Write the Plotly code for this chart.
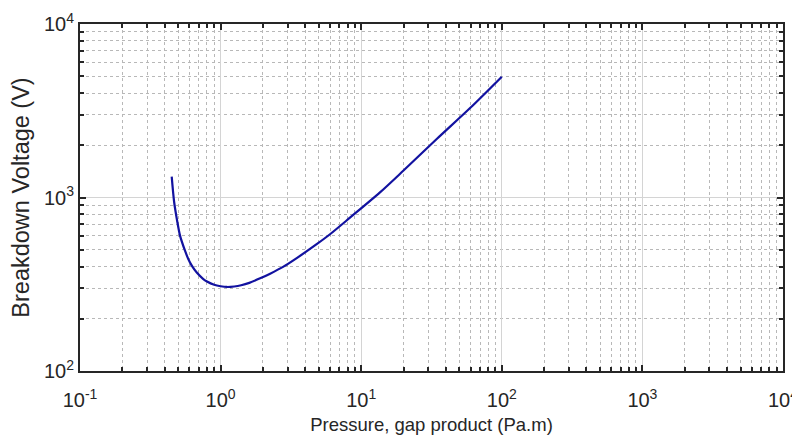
import plotly.graph_objects as go

# Data (pressure-gap product in Pa.m, breakdown voltage in V)
pd_values = [0.449, 0.467, 0.49, 0.514, 0.559, 0.59, 0.627, 0.679, 0.75, 0.80, 0.9, 1.0,
             1.11, 1.25, 1.4, 1.6, 1.91, 2.25, 2.78, 3.5, 4.85, 6.0, 8.32,
             13.6, 20, 34.6, 60, 100]
voltage = [1318, 945, 740, 605, 492, 441, 402, 368, 340, 328, 314, 308,
           305, 307, 312, 322, 342, 364, 398, 449, 540, 614, 765,
           1070, 1430, 2180, 3300, 4970]

x_tickvals = [0.1, 1, 10, 100, 1000, 10000]
x_ticktext = ["10<sup>-1</sup>", "10<sup>0</sup>", "10<sup>1</sup>",
              "10<sup>2</sup>", "10<sup>3</sup>", "10<sup>4</sup>"]
y_tickvals = [100, 1000, 10000]
y_ticktext = ["10<sup>2</sup>", "10<sup>3</sup>", "10<sup>4</sup>"]

x_title = "Pressure, gap product (Pa.m)"
y_title = "Breakdown Voltage (V)"

font_family = "Liberation Sans, Arial, sans-serif"

fig = go.Figure()
fig.add_trace(go.Scatter(
    x=pd_values, y=voltage, mode="lines",
    line=dict(color="#1212a0", width=2.2, shape="spline", smoothing=0.8),
    showlegend=False,
))

axis_common = dict(
    type="log",
    automargin=False,
    showline=True, linecolor="#262626", linewidth=2, mirror="allticks",
    ticks="inside", ticklen=6, tickwidth=1.5, tickcolor="#262626",
    showgrid=True, gridcolor="#d4d4d4", gridwidth=1.2,
    zeroline=False,
    ticklabeloverflow="allow",
    tickfont=dict(family=font_family, size=20, color="#262626"),
    minor=dict(dtick="D1", showgrid=True, gridcolor="#b8b8b8", griddash="dot",
               gridwidth=1, ticks="inside", ticklen=4, tickcolor="#262626"),
)

fig.update_xaxes(
    **axis_common,
    range=[-1, 4],
    tickmode="array", tickvals=x_tickvals, ticktext=x_ticktext,
    ticklabelstandoff=10,
    title=dict(text=x_title, font=dict(family=font_family, size=18.5, color="#262626"),
               standoff=8),
)
fig.update_yaxes(
    **axis_common,
    range=[2, 4],
    tickmode="array", tickvals=y_tickvals, ticktext=y_ticktext,
    title=dict(text=y_title, font=dict(family=font_family, size=23.5, color="#262626"),
               standoff=8),
)

# the page body adds an 8px margin, so the figure is sized to fit inside the window
fig.update_layout(
    width=792, height=433,
    margin=dict(l=72, r=17, t=16, b=70),
    paper_bgcolor="white", plot_bgcolor="white",
    font=dict(family=font_family, color="#262626"),
)

fig.write_html("out.html")
